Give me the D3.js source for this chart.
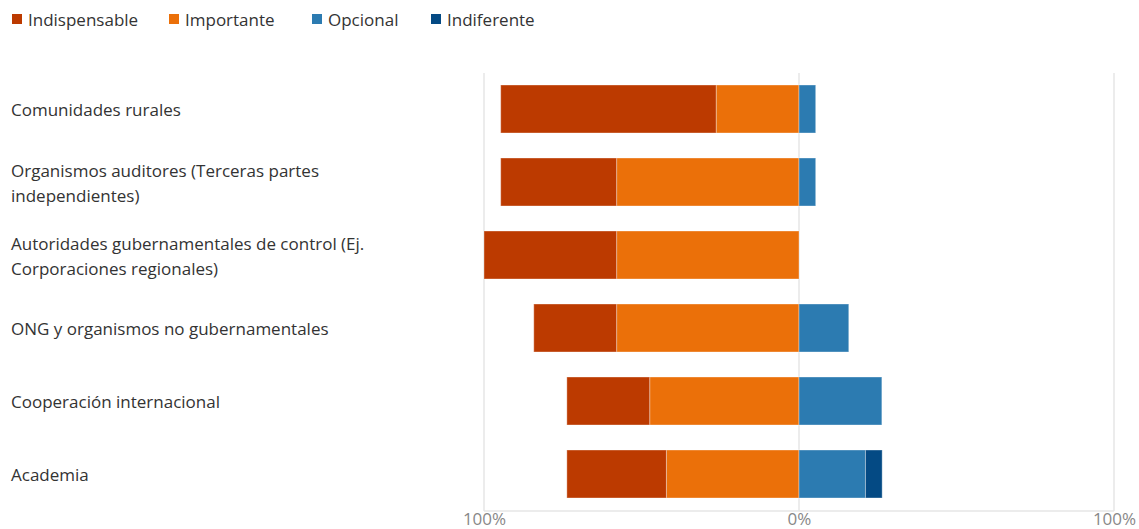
<!DOCTYPE html>
<html>
<head>
<meta charset="utf-8">
<script src="https://cdn.jsdelivr.net/npm/d3@7"></script>
<style>
  html, body { margin: 0; padding: 0; background: #fff; }
  svg { display: block; }
  text { font-family: "Open Sans", "Noto Sans", sans-serif; }
</style>
</head>
<body>
<svg id="chart" width="1139" height="529"></svg>
<script>
const categories = [
  "Comunidades rurales",
  "Organismos auditores (Terceras partes\nindependientes)",
  "Autoridades gubernamentales de control (Ej.\nCorporaciones regionales)",
  "ONG y organismos no gubernamentales",
  "Cooperación internacional",
  "Academia"
];
const seriesNames = ["Indispensable", "Importante", "Opcional", "Indiferente"];
const indispensable = [68.4, 36.8, 42.1, 26.3, 26.3, 31.6];
const importante    = [26.3, 57.9, 57.9, 57.9, 47.4, 42.1];
const opcional      = [5.3, 5.3, 0, 15.8, 26.3, 21.1];
const indiferente   = [0, 0, 0, 0, 0, 5.3];
const tickValues = [-100, 0, 100];
const tickLabels = ["100%", "0%", "100%"];

const colors = {
  "Indispensable": "#BC3A00",
  "Importante": "#EB7009",
  "Opcional": "#2C7BB1",
  "Indiferente": "#044A84"
};

const svg = d3.select("#chart");
const x = d3.scaleLinear().domain([-100, 100]).range([484, 1114]);
const y = d3.scalePoint().domain(categories).range([72.5, 510.5]).padding(0.5);
const barH = 48;
const gridTop = 73, gridBottom = 511;

// gridlines
const grid = svg.append("g");
grid.selectAll("line.v").data(tickValues).enter().append("line")
  .attr("x1", d => x(d)).attr("x2", d => x(d))
  .attr("y1", gridTop).attr("y2", gridBottom)
  .attr("stroke", "#e6e6e6").attr("stroke-width", 1.5);
grid.append("line")
  .attr("x1", x(-100)).attr("x2", x(100))
  .attr("y1", gridBottom).attr("y2", gridBottom)
  .attr("stroke", "#e6e6e6").attr("stroke-width", 1.5);

// axis labels
const axis = d3.axisBottom(x).tickValues(tickValues)
  .tickFormat((d, i) => tickLabels[i]).tickSize(0).tickPadding(0);
const ag = svg.append("g").attr("transform", `translate(0,${gridBottom})`).call(axis);
ag.select(".domain").remove();
ag.selectAll("text").attr("dy", null).attr("y", 14)
  .attr("fill", "#888").style("font-size", "17px")
  .style("font-family", "'Open Sans', sans-serif");

// stacked segments
const rows = categories.map((c, i) => {
  const segs = [];
  const imp = importante[i], ind = indispensable[i];
  segs.push({ key: "Importante", x0: -imp, x1: 0 });
  segs.push({ key: "Indispensable", x0: -imp - ind, x1: -imp });
  const op = opcional[i], indf = indiferente[i];
  segs.push({ key: "Opcional", x0: 0, x1: op });
  segs.push({ key: "Indiferente", x0: op, x1: op + indf });
  return { cat: c, segs: segs.filter(s => s.x1 - s.x0 > 0) };
});

const bars = svg.append("g");
rows.forEach(r => {
  bars.selectAll(null).data(r.segs).enter().append("rect")
    .attr("x", d => x(d.x0))
    .attr("width", d => x(d.x1) - x(d.x0))
    .attr("y", y(r.cat) - barH / 2)
    .attr("height", barH)
    .attr("fill", d => colors[d.key])
    .attr("stroke", "rgba(255,255,255,0.35)")
    .attr("stroke-width", 1);
});

// category labels
const labels = svg.append("g");
categories.forEach(c => {
  const lines = c.split("\n");
  const lh = 25;
  const t = labels.append("text")
    .attr("x", 11)
    .attr("fill", "#333")
    .style("font-size", "17px");
  lines.forEach((ln, j) => {
    t.append("tspan")
      .attr("x", 11)
      .attr("y", y(c) + 1.5 + (j - (lines.length - 1) / 2) * lh)
      .attr("dy", "0.35em")
      .text(ln);
  });
});

// legend
const legendX = [12, 169, 312, 431];
const leg = svg.append("g");
seriesNames.forEach((s, i) => {
  const g = leg.append("g").attr("transform", `translate(${legendX[i]},0)`);
  g.append("rect").attr("x", 0).attr("y", 14).attr("width", 10).attr("height", 10)
    .attr("fill", colors[s]);
  g.append("text").attr("x", 16).attr("y", 20).attr("dy", "0.35em")
    .attr("fill", "#333").style("font-size", "17px").text(s);
});
</script>
</body>
</html>
